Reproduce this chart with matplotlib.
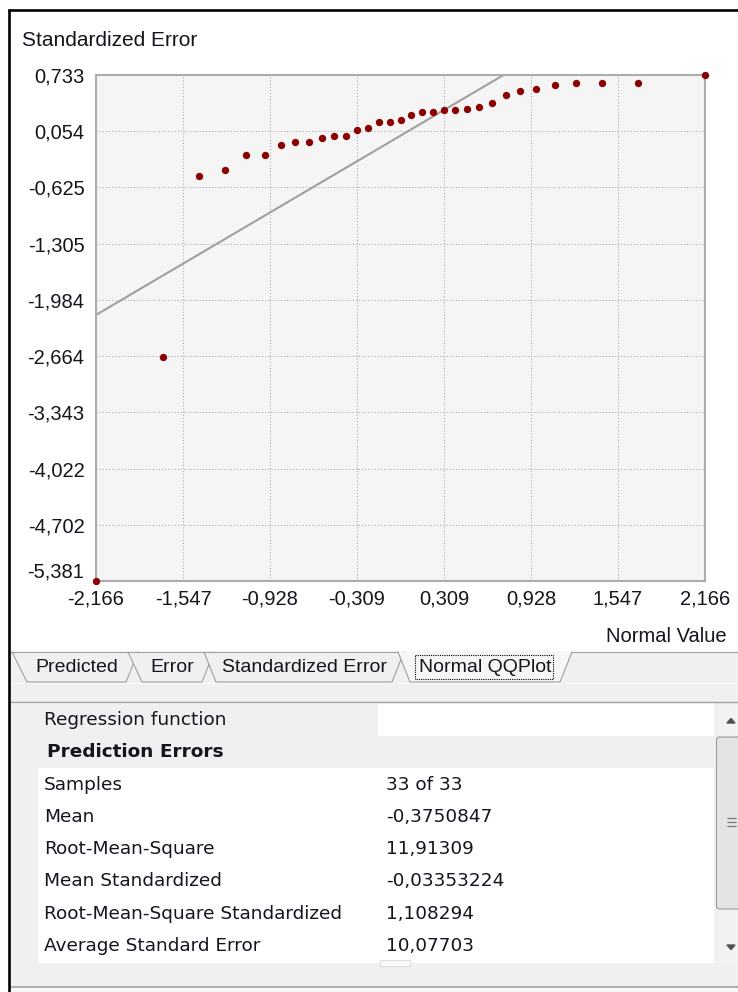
import matplotlib
matplotlib.use('Agg')  # no display in the sandbox

import matplotlib.pyplot as plt
from matplotlib.patches import Rectangle, Polygon, FancyBboxPatch

# --- QQ plot data (33 samples) ---
normal_values = [-2.166, -1.691, -1.434, -1.248, -1.097, -0.967, -0.852, -0.748,
                 -0.651, -0.559, -0.473, -0.390, -0.309, -0.230, -0.153, -0.076,
                 0.0, 0.076, 0.153, 0.230, 0.309, 0.390, 0.473, 0.559,
                 0.651, 0.748, 0.852, 0.967, 1.097, 1.248, 1.434, 1.691, 2.166]
standardized_errors = [-5.381, -2.67, -0.485, -0.42, -0.233, -0.23, -0.116, -0.072,
                       -0.072, -0.025, 0.0, 0.0, 0.07, 0.09, 0.16, 0.16,
                       0.19, 0.255, 0.28, 0.285, 0.305, 0.305, 0.32, 0.345,
                       0.40, 0.49, 0.535, 0.565, 0.61, 0.635, 0.635, 0.635, 0.733]

# reference line of the QQ plot
ref_slope = 1.0
ref_intercept = 0.0

x_ticks = [-2.166, -1.547, -0.928, -0.309, 0.309, 0.928, 1.547, 2.166]
x_tick_labels = ['-2,166', '-1,547', '-0,928', '-0,309', '0,309', '0,928', '1,547', '2,166']
y_ticks = [0.733, 0.054, -0.625, -1.305, -1.984, -2.664, -3.343, -4.022, -4.702, -5.381]
y_tick_labels = ['0,733', '0,054', '-0,625', '-1,305', '-1,984', '-2,664', '-3,343',
                 '-4,022', '-4,702', '-5,381']

tab_names = ['Predicted', 'Error', 'Standardized Error', 'Normal QQPlot']
selected_tab = 3

stat_names = ['Regression function', 'Prediction Errors', 'Samples', 'Mean',
              'Root-Mean-Square', 'Mean Standardized',
              'Root-Mean-Square Standardized', 'Average Standard Error']
stat_values = ['', '', '33 of 33', '-0,3750847', '11,91309', '-0,03353224',
               '1,108294', '10,07703']

W, H = 738, 992
GREY_BG = '#F0F0F0'
EDGE = '#A0A0A0'
TEXT = '#15151f'

plt.rcParams['font.family'] = ['Liberation Sans', 'DejaVu Sans']

fig = plt.figure(figsize=(W / 100, H / 100), dpi=100, facecolor='white')

# full-figure axes in pixel coordinates for the window chrome
ui = fig.add_axes([0, 0, 1, 1])
ui.set_xlim(0, W)
ui.set_ylim(H, 0)
ui.axis('off')


def rect(x0, y0, x1, y1, fc, ec='none', lw=0, z=1):
    ui.add_patch(Rectangle((x0, y0), x1 - x0, y1 - y0, facecolor=fc,
                           edgecolor=ec, linewidth=lw, zorder=z))


def hline(y, x0, x1, color=EDGE, lw=0.8, z=2):
    ui.plot([x0, x1], [y, y], color=color, lw=lw, solid_capstyle='butt', zorder=z)


# chart captions
ui.text(22, 40, 'Standardized Error', fontsize=15, color=TEXT, va='center')
ui.text(727, 637, 'Normal Value', fontsize=14.5, color=TEXT, ha='right', va='center')

# tab strip
rect(10, 652, W, 702, GREY_BG)
hline(652, 10, W)
hline(683, 10, W, color='#FAFAFA', lw=0.8)
tab_edges = [(12, 27, 126, 138), (128, 142, 202, 214), (204, 216, 392, 404), (398, 410, 560, 572)]
for i, (name, (tl, bl, br, tr)) in enumerate(zip(tab_names, tab_edges)):
    sel = i == selected_tab
    ui.add_patch(Polygon([(tl, 652), (bl, 682), (br, 682), (tr, 652)], closed=True,
                         facecolor='#F6F6F6' if sel else GREY_BG, edgecolor='none', zorder=3 + i))
    ui.plot([tl, bl, br, tr], [652, 682, 682, 652], color=EDGE, lw=0.8, zorder=3 + i)
    if not sel:
        hline(652, tl, tr, z=3 + i)
    ui.text((bl + br) / 2, 667, name, fontsize=14, color=TEXT, ha='center', va='center', zorder=10)
    if sel:
        ui.add_patch(Rectangle((415, 655), 138, 24, fill=False, edgecolor='black',
                               lw=0.8, ls=(0, (1, 1)), zorder=11))

# property grid
hline(701.5, 10, W, lw=1.0)
row_h = 32.3
row_top = 703.8
rect(10, row_top, 378, row_top + row_h, GREY_BG)
rect(378, row_top, 714, row_top + row_h, 'white')
rect(10, row_top + row_h, 714, row_top + 2 * row_h, GREY_BG)
rect(10, row_top + 2 * row_h, 38, 963, GREY_BG)
rect(38, row_top + 2 * row_h, 714, 963, 'white')
for i, (name, val) in enumerate(zip(stat_names, stat_values)):
    yc = row_top + row_h * (i + 0.5)
    if i == 1:
        ui.text(47, yc, name, fontsize=13.3, fontweight='bold', family='DejaVu Sans',
                color=TEXT, va='center', zorder=5)
    else:
        ui.text(44, yc, name, fontsize=13.3, family='DejaVu Sans', color=TEXT,
                va='center', zorder=5)
    if val:
        ui.text(386, yc, val, fontsize=13.3, family='DejaVu Sans', color=TEXT,
                va='center', zorder=5)

# scrollbar
rect(714, 702, W, 963, '#F2F2F2')
ui.add_patch(FancyBboxPatch((716.5, 737), 30, 172, boxstyle='round,pad=0,rounding_size=3',
                            facecolor='#E4E4E4', edgecolor='#9A9A9A', lw=0.8, zorder=3))
for gy in (818, 822, 826):
    hline(gy, 727, 736, color='#777777', lw=0.9, z=4)
ui.add_patch(Polygon([(727, 723), (735, 723), (731, 718.5)], closed=True, color='#505050', zorder=4))
ui.add_patch(Polygon([(727, 945), (735, 945), (731, 949.5)], closed=True, color='#505050', zorder=4))

# status strip at the bottom
rect(10, 963, W, 986, GREY_BG)
rect(380, 960, 410, 966, '#FAFAFA', ec='#D0D0D0', lw=0.5, z=3)
hline(987, 10, W, lw=1.2)
rect(10, 988, W, H, '#F7F7F7')

# outer black window border
ui.plot([9, 9], [8.5, H], color='black', lw=1.9, solid_capstyle='butt', zorder=20)
ui.plot([8, W], [9.5, 9.5], color='black', lw=1.9, solid_capstyle='butt', zorder=20)

# --- the QQ plot itself ---
ax = fig.add_axes([96 / W, 1 - 581 / H, 609 / W, 506 / H])
ax.set_facecolor('#F5F5F5')
ax.set_xlim(x_ticks[0], x_ticks[-1])
ax.set_ylim(y_ticks[-1], y_ticks[0])
ax.set_xticks(x_ticks, x_tick_labels)
ax.set_yticks(y_ticks, y_tick_labels)
ax.tick_params(axis='both', length=0, labelsize=14.5, labelcolor=TEXT)
ax.tick_params(axis='x', pad=5.8)
ax.tick_params(axis='y', pad=8.3)
ax.set_axisbelow(True)
ax.grid(True, color='#A8A8A8', linestyle=(0, (1, 2)), linewidth=0.75)
for spine in ax.spines.values():
    spine.set_color('#ADADAD')
    spine.set_linewidth(1.5)

ax.axline((0, ref_intercept), slope=ref_slope, color='#A0A0A0', lw=1.5, zorder=2)
ax.scatter(normal_values, standardized_errors, s=28, color='#8B0000', zorder=3,
           clip_on=False, linewidths=0)

for lab in ax.get_yticklabels():
    if lab.get_text() == y_tick_labels[-1]:
        lab.set_va('bottom')

fig.savefig('out.png', dpi=100)
